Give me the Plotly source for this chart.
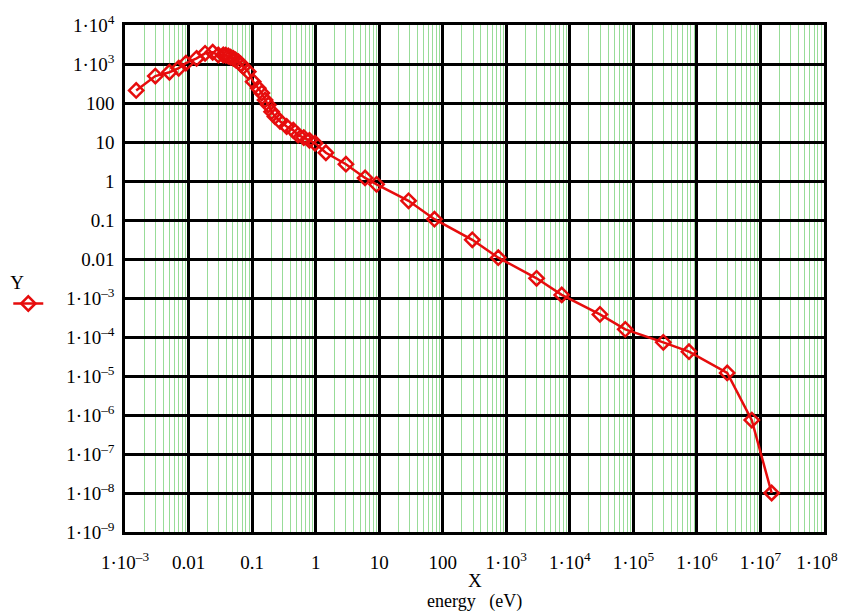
import plotly.graph_objects as go

energy = [0.0015, 0.003, 0.005, 0.007, 0.0091, 0.0134, 0.0182, 0.024, 0.0294, 0.0352,
          0.0385, 0.0422, 0.046, 0.0506, 0.055, 0.0607, 0.066, 0.0728, 0.087, 0.104,
          0.125, 0.142, 0.16, 0.18, 0.203, 0.229, 0.275, 0.35, 0.445, 0.53,
          0.65, 0.8, 0.98, 1.45, 3.0, 6.0, 9.1, 29, 74, 292,
          748, 3000, 7460, 29800, 74600, 296000, 750000, 3.0e6, 7.3e6, 1.5e7]
flux = [210, 490, 615, 777, 1050, 1400, 1880, 2000, 1700, 1700,
        1680, 1600, 1500, 1400, 1280, 1150, 1000, 855, 635, 352,
        240, 180, 120, 89, 60, 45, 34, 25, 20, 15,
        13, 11, 9.3, 5.3, 2.7, 1.2, 0.82, 0.31, 0.105, 0.031,
        0.0108, 0.0032, 0.0012, 3.8e-4, 1.57e-4, 7.3e-5, 4.2e-5, 1.2e-5, 7.4e-7, 1.0e-8]

x_tickvals = [1e-3, 1e-2, 1e-1, 1, 10, 100, 1e3, 1e4, 1e5, 1e6, 1e7, 1e8]
x_ticktext = ["1·10<sup>‒3</sup>", "0.01", "0.1", "1", "10", "100",
              "1·10<sup>3</sup>", "1·10<sup>4</sup>", "1·10<sup>5</sup>",
              "1·10<sup>6</sup>", "1·10<sup>7</sup>",
              "1·10<sup>8</sup>\u00a0\u00a0\u00a0"]
y_tickvals = [1e-9, 1e-8, 1e-7, 1e-6, 1e-5, 1e-4, 1e-3, 1e-2, 1e-1, 1, 10, 100, 1e3, 1e4]
y_ticktext = ["1·10<sup>‒9</sup>", "1·10<sup>‒8</sup>", "1·10<sup>‒7</sup>",
              "1·10<sup>‒6</sup>", "1·10<sup>‒5</sup>", "1·10<sup>‒4</sup>",
              "1·10<sup>‒3</sup>", "0.01", "0.1", "1", "10", "100",
              "1·10<sup>3</sup>", "1·10<sup>4</sup>"]
x_title = "X"
x_subtitle = "energy\u00a0\u00a0\u00a0(eV)"

FONT = "Liberation Serif"
RED = "#e60d0d"

fig = go.Figure()
fig.add_trace(go.Scatter(
    x=energy, y=flux, mode="lines+markers", name=" ",
    line=dict(color=RED, width=2.5),
    marker=dict(symbol="diamond-open", size=11, color=RED, line=dict(width=2.5, color=RED)),
))

# page body has an 8px margin: compensate so the plot area lands where the reference has it
fig.update_layout(
    width=838, height=603,
    margin=dict(l=117, r=22, t=17, b=79, autoexpand=False),
    paper_bgcolor="white", plot_bgcolor="white",
    font=dict(family=FONT, size=19, color="black"),
    showlegend=True,
    legend=dict(
        x=-0.167, y=0.528, xanchor="left", yanchor="top",
        title=dict(text="Y", side="top", font=dict(family=FONT, size=19)),
        bgcolor="rgba(0,0,0,0)", itemwidth=30,
        font=dict(size=2),
    ),
    xaxis=dict(
        type="log", range=[-3, 8], automargin=False,
        tickmode="array", tickvals=x_tickvals, ticktext=x_ticktext,
        ticklabeloverflow="allow",
        showgrid=True, gridcolor="black", gridwidth=2.5,
        showline=True, linecolor="black", linewidth=2.5, mirror=True,
        ticks="outside", ticklen=11, tickcolor="rgba(0,0,0,0)",
        minor=dict(showgrid=True, gridcolor="#98dc98", gridwidth=1.4, dtick="D1", ticks=""),
        tickfont=dict(family=FONT, size=19),
        zeroline=False,
    ),
    yaxis=dict(
        type="log", range=[-9, 4], automargin=False,
        tickmode="array", tickvals=y_tickvals, ticktext=y_ticktext,
        ticklabeloverflow="allow",
        showgrid=True, gridcolor="black", gridwidth=2.5,
        showline=True, linecolor="black", linewidth=2.5, mirror=True,
        ticks="outside", ticklen=4, tickcolor="rgba(0,0,0,0)",
        tickfont=dict(family=FONT, size=19),
        zeroline=False,
    ),
    annotations=[
        dict(text=x_title, xref="paper", yref="paper", x=0.5, y=0, yshift=-48,
             xanchor="center", yanchor="middle", showarrow=False,
             font=dict(family=FONT, size=19)),
        dict(text=x_subtitle, xref="paper", yref="paper", x=0.5, y=0, yshift=-69,
             xanchor="center", yanchor="middle", showarrow=False,
             font=dict(family=FONT, size=18)),
    ],
)

fig.write_html("out.html")
